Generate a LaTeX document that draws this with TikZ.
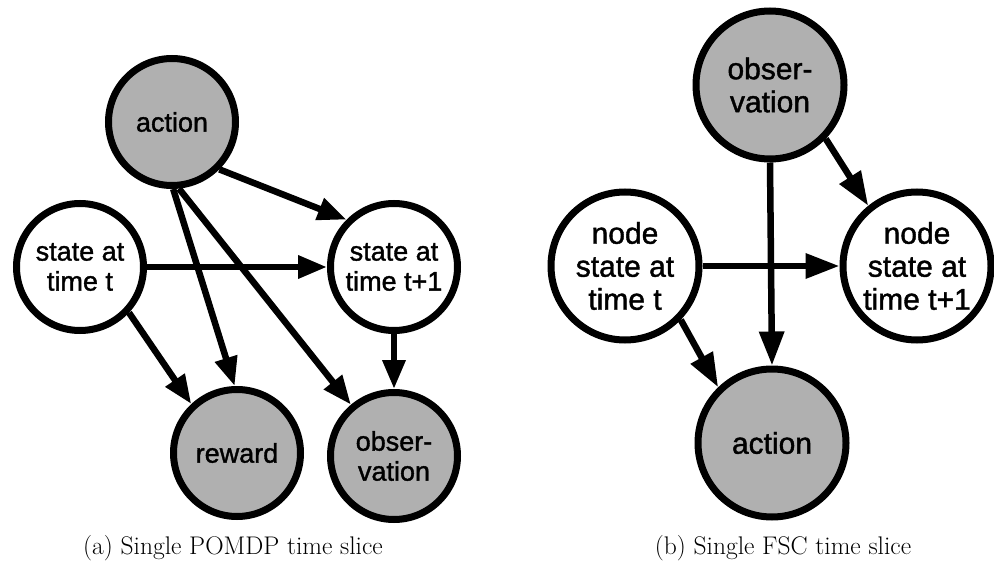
\documentclass[tikz,border=0pt]{standalone}
\usepackage{fontspec}
\newfontfamily\nodefont[FakeBold=1.3]{Liberation Sans}
\usetikzlibrary{arrows.meta}
\tikzset{
  net/.style={circle, draw=black, line width=7pt, inner sep=0pt, align=center},
  small/.style={net, minimum size=127pt, font=\nodefont\fontsize{27}{30}\selectfont},
  big/.style={net, minimum size=148pt, font=\nodefont\fontsize{30}{33}\selectfont},
  hidden/.style={fill=white},
  seen/.style={fill=black!31},
  arc/.style={line width=6.5pt, -{Triangle[length=29pt,width=22pt]}},
  bigarc/.style={line width=6.5pt, -{Triangle[length=34pt,width=24pt]}},
  captext/.style={font=\fontsize{25.5}{30}\selectfont, anchor=base}
}
\begin{document}
\begin{tikzpicture}[x=1pt, y=-1pt]
\useasboundingbox (0,0) rectangle (994,567);

% (a) POMDP time slice
\node[small, seen]   (act)  at (172,122) {action};
\node[small, hidden] (st)   at (80,267)  {state at\\time t};
\node[small, hidden] (st1)  at (394,267) {state at\\time t+1};
\node[small, seen]   (rew)  at (237,453) {reward};
\node[small, seen]   (obs)  at (394,456) {obser-\\vation};

\draw[arc] (act.-45) -- (st1.135);
\draw[arc] (st.0) -- (st1.180);
\draw[arc] (act.-89) -- (rew.92);
\draw[arc] (act.-84) -- (obs.130);
\draw[arc] (st.-43) -- (rew.133);
\draw[arc] (st1.-90) -- (obs.90);

\node[captext] (capa) at (233,554) {(a) Single POMDP time slice};

% (b) FSC time slice
\node[big, seen]   (fobs) at (770,85)  {obser-\\vation};
\node[big, hidden] (nt)   at (625,266) {node\\state at\\time t};
\node[big, hidden] (nt1)  at (917,266) {node\\state at\\time t+1};
\node[big, seen]   (fact) at (772,443) {action};

\draw[bigarc] (fobs.-44) -- (nt1.129);
\draw[bigarc] (nt.0) -- (nt1.180);
\draw[bigarc] (fobs.-90) -- (fact.90);
\draw[bigarc] (nt.-44) -- (fact.134);

\node[captext] (capb) at (783,554) {(b) Single FSC time slice};
\end{tikzpicture}
\end{document}
